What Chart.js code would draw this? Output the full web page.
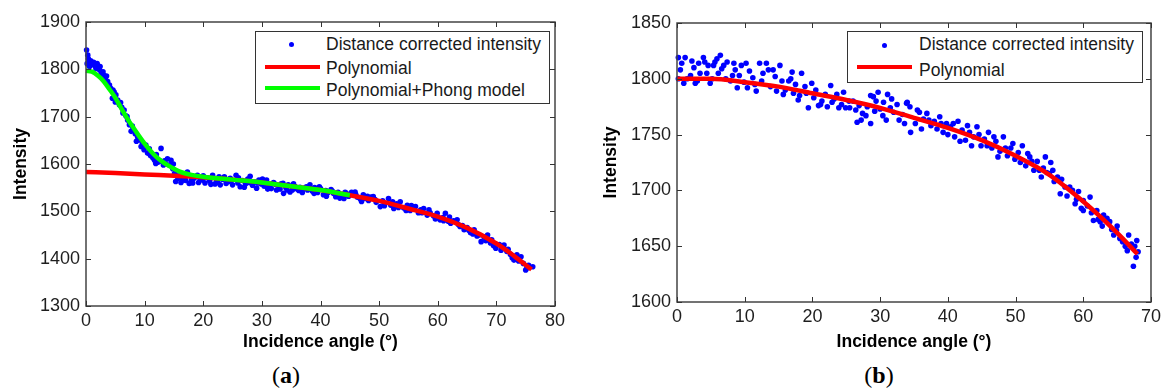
<!DOCTYPE html>
<html><head><meta charset="utf-8">
<script src="https://cdn.jsdelivr.net/npm/chart.js@4.4.1/dist/chart.umd.min.js"></script>
<style>
body{margin:0;background:#fff;width:1165px;height:390px;overflow:hidden;position:relative;font-family:"Liberation Sans",Arial,sans-serif;}
canvas{position:absolute;top:0}
.lg{position:absolute;border:1.5px solid #333;box-sizing:border-box;background:#fff}
.t{position:absolute;font-size:17.5px;line-height:20px;color:#1a1a1a;white-space:nowrap}
.dot{position:absolute;width:5px;height:5px;border-radius:50%;background:#0000ff}
.ln{position:absolute;height:4px}
.cap{position:absolute;font-family:"Liberation Serif","Times New Roman",serif;font-size:24px;line-height:26px;color:#000;transform:translateX(-50%);white-space:nowrap}
</style></head><body>
<canvas id="ca" width="580" height="360" style="left:0"></canvas>
<canvas id="cb" width="575" height="360" style="left:590px"></canvas>

<div class="lg" style="left:255px;top:31px;width:295px;height:73px"></div>
<div class="dot" style="left:289px;top:42px"></div>
<div class="t" style="left:326px;top:34px">Distance corrected intensity</div>
<div class="ln" style="left:265px;top:65px;width:55px;background:#ff0000"></div>
<div class="t" style="left:326px;top:58px">Polynomial</div>
<div class="ln" style="left:265px;top:86px;width:55px;background:#00ff00"></div>
<div class="t" style="left:326px;top:80px">Polynomial+Phong model</div>

<div class="lg" style="left:847px;top:31px;width:296px;height:52px"></div>
<div class="dot" style="left:882px;top:42.5px"></div>
<div class="t" style="left:919px;top:34px">Distance corrected intensity</div>
<div class="ln" style="left:857px;top:65px;width:55px;background:#ff0000"></div>
<div class="t" style="left:919px;top:60px">Polynomial</div>

<div class="cap" style="left:286px;top:362px">(<b>a</b>)</div>
<div class="cap" style="left:879px;top:362px">(<b>b</b>)</div>

<script>
// ---------- data: chart (a) ----------
const xTicksA = [0,10,20,30,40,50,60,70,80];
const yTicksA = [1300,1400,1500,1600,1700,1800,1900];
const measuredA = [
[0.1,1841],[0.3,1830],[0.2,1812],[0.4,1822],[0.6,1806],[0.8,1818],[1.0,1810],[1.3,1815],[1.5,1808],[1.7,1802],
[1.9,1812],[2.0,1808],[2.3,1799],[2.4,1806],[2.6,1792],[2.9,1795],[3.0,1788],[3.3,1780],[3.5,1786],[3.7,1774],
[4.0,1767],[4.2,1760],[4.5,1739],[4.6,1756],[4.8,1752],[5.0,1731],[5.1,1746],[5.4,1735],[5.7,1725],[5.9,1730],
[6.1,1720],[6.3,1708],[6.5,1714],[6.8,1702],[7.0,1700],[7.1,1693],[7.4,1683],[7.7,1669],[7.9,1680],[8.0,1672],
[8.4,1664],[8.6,1648],[8.8,1657],[9.1,1651],[9.4,1637],[9.6,1645],[9.9,1630],[10.2,1640],[10.5,1623],[10.8,1632],
[11.0,1618],[11.4,1613],[11.7,1608],[11.9,1601],[12.0,1620],[12.3,1604],[12.6,1606],[12.8,1633],[13.2,1598],[13.4,1607],
[13.6,1601],[13.9,1611],[14.2,1598],[14.5,1608],[14.8,1590],[14.9,1600],[15.1,1580],[15.3,1563],[15.5,1575],[15.7,1570],
[16.0,1575],[16.2,1561],[16.5,1566],[16.9,1572],[17.0,1565],[17.3,1583],[17.6,1559],[18.0,1566],[18.2,1560],[18.4,1570],
[18.8,1573],[19.0,1576],[19.2,1561],[19.5,1568],[19.9,1566],[20.0,1575],[20.3,1560],[20.7,1571],[21.1,1564],[21.3,1557],
[21.6,1576],[22.0,1558],[22.3,1566],[22.5,1561],[22.7,1573],[22.9,1556],[23.3,1568],[23.6,1573],[23.9,1559],[24.3,1563],
[24.6,1570],[24.8,1566],[25.0,1556],[25.6,1576],[25.9,1560],[26.0,1571],[26.3,1552],[26.7,1565],[27.0,1551],[27.2,1558],
[27.6,1568],[27.9,1561],[28.0,1574],[28.4,1555],[28.8,1562],[29.1,1549],[29.3,1560],[29.5,1566],[29.9,1558],[30.1,1568],
[30.4,1553],[30.8,1566],[31.0,1547],[31.2,1556],[31.6,1548],[32.0,1561],[32.3,1557],[32.5,1545],[32.9,1553],[33.1,1547],
[33.3,1558],[33.6,1559],[33.7,1538],[34.1,1550],[34.3,1545],[34.5,1556],[34.8,1541],[35.2,1545],[35.4,1558],[35.6,1553],
[36.0,1547],[36.3,1544],[36.5,1551],[36.9,1540],[37.3,1549],[37.6,1552],[37.8,1545],[38.2,1556],[38.6,1543],[38.9,1538],
[39.0,1550],[39.5,1540],[39.8,1552],[40.0,1548],[40.5,1535],[40.9,1544],[41.0,1532],[41.3,1540],[41.8,1546],[42.0,1543],
[42.2,1538],[42.6,1531],[43.0,1540],[43.3,1528],[43.5,1533],[44.0,1527],[44.2,1540],[44.4,1538],[44.8,1532],[45.3,1540],
[45.9,1541],[46.0,1536],[46.3,1530],[46.8,1526],[47.0,1521],[47.3,1535],[47.7,1527],[48.0,1532],[48.2,1523],[48.6,1530],
[49.0,1531],[49.3,1525],[49.5,1519],[50.2,1510],[50.6,1522],[50.9,1512],[51.0,1517],[51.6,1527],[52.0,1513],[52.3,1520],
[52.5,1506],[53.0,1516],[53.3,1508],[53.6,1520],[54.2,1507],[54.6,1502],[54.8,1513],[55.3,1502],[55.5,1512],[55.8,1508],
[56.2,1510],[56.7,1497],[57.1,1503],[57.3,1497],[57.6,1506],[58.2,1492],[58.5,1503],[58.7,1497],[59.3,1490],[59.6,1484],
[59.9,1496],[60.4,1482],[60.9,1487],[61.0,1480],[61.3,1496],[61.8,1479],[62.0,1488],[62.2,1475],[62.7,1480],[63.3,1482],
[63.5,1472],[63.8,1468],[64.2,1470],[64.5,1461],[65.0,1466],[65.3,1460],[65.6,1455],[66.0,1452],[66.2,1461],[66.7,1448],
[67.1,1450],[67.4,1436],[67.9,1446],[68.2,1438],[68.5,1450],[69.0,1433],[69.2,1440],[69.5,1428],[69.9,1422],[70.1,1430],
[70.5,1430],[70.8,1418],[71.3,1429],[71.8,1415],[72.0,1420],[72.4,1409],[72.7,1402],[73.0,1397],[73.5,1408],[73.8,1395],
[74.2,1404],[74.6,1390],[75.0,1376],[75.2,1380],[75.5,1386],[76.2,1383]
];
const polynomialA = [
[0,1583],[5,1581],[10,1578],[15,1575],[20,1572],[25,1567],[30,1561],[35,1553],[40,1545],[45,1534],
[50,1522],[55,1506],[60,1489],[65,1465],[70,1432],[73,1406],[76,1377]
];
const phongA = [
[0,1797],[1,1795],[2,1787],[3,1775],[4,1758],[5,1740],[6,1718],[7,1697],[8,1678],[9,1660],[10,1643],
[11,1628],[12,1615],[13,1605],[14,1597],[15,1590],[16,1584],[17,1580],[18,1577],[20,1573],[25,1567],
[30,1561],[35,1553],[40,1545],[45,1534]
];

// ---------- data: chart (b) ----------
const xTicksB = [0,10,20,30,40,50,60,70];
const yTicksB = [1600,1650,1700,1750,1800,1850];
const measuredB = [
[0.2,1819],[0.2,1800],[0.5,1808],[0.7,1814],[1.0,1796],[1.2,1819],[1.5,1800],[2.0,1803],[2.2,1816],[2.5,1810],
[2.7,1796],[3.0,1798],[3.2,1814],[3.4,1805],[3.9,1819],[4.1,1815],[4.4,1805],[4.6,1812],[4.9,1796],[5.2,1800],
[5.4,1812],[5.6,1815],[5.9,1818],[6.1,1805],[6.4,1821],[6.6,1809],[6.9,1812],[7.2,1800],[7.4,1815],[7.9,1798],
[8.2,1803],[8.4,1814],[8.6,1808],[8.9,1792],[9.2,1803],[9.5,1812],[9.9,1797],[10.2,1814],[10.4,1792],[10.7,1807],
[11.2,1801],[11.5,1795],[11.7,1789],[12.2,1814],[12.5,1798],[12.7,1805],[13.2,1814],[13.5,1808],[13.8,1793],[14.2,1808],
[14.5,1802],[14.7,1789],[15.2,1812],[15.5,1798],[15.7,1786],[16.0,1790],[16.5,1798],[16.8,1800],[17.0,1806],[17.2,1787],
[17.5,1795],[17.9,1781],[18.1,1785],[18.4,1805],[18.9,1793],[19.1,1787],[19.4,1774],[19.9,1796],[20.2,1783],[20.5,1790],
[20.9,1776],[21.2,1777],[21.4,1780],[21.9,1786],[22.2,1775],[22.7,1794],[22.9,1779],[23.2,1782],[23.6,1786],[23.9,1774],
[24.3,1777],[24.6,1788],[24.9,1774],[25.4,1780],[25.5,1774],[26.0,1780],[26.4,1772],[26.6,1761],[26.9,1776],[27.2,1763],
[27.4,1769],[27.9,1767],[28.1,1775],[28.6,1785],[28.6,1760],[29.0,1784],[29.2,1771],[29.4,1780],[29.7,1788],[30.0,1773],
[30.4,1767],[30.5,1779],[30.9,1763],[31.1,1786],[31.5,1774],[31.7,1782],[32.0,1770],[32.5,1777],[32.8,1763],[33.3,1768],
[33.6,1760],[33.9,1778],[34.0,1779],[34.4,1775],[34.5,1752],[35.2,1760],[35.5,1772],[35.8,1770],[36.1,1755],[36.4,1764],
[36.9,1769],[37.2,1763],[37.5,1758],[38.0,1762],[38.4,1755],[38.8,1766],[39.0,1760],[39.3,1752],[39.8,1760],[40.0,1750],
[40.4,1757],[40.8,1760],[41.0,1748],[41.5,1762],[41.8,1744],[42.1,1754],[42.6,1745],[42.9,1758],[43.2,1752],[43.5,1740],
[43.8,1748],[44.3,1757],[44.6,1750],[44.9,1740],[45.4,1746],[45.8,1740],[46.0,1752],[46.5,1738],[46.8,1748],[47.1,1744],
[47.4,1730],[47.7,1735],[48.2,1748],[48.5,1738],[48.8,1731],[49.3,1738],[49.6,1742],[49.9,1728],[50.4,1734],[50.7,1725],
[51.0,1740],[51.5,1722],[51.8,1733],[52.1,1730],[52.4,1726],[52.7,1718],[53.2,1726],[53.5,1718],[53.8,1712],[54.1,1720],
[54.4,1730],[54.6,1716],[55.0,1715],[55.2,1725],[55.5,1718],[55.7,1708],[56.2,1712],[56.6,1697],[56.8,1710],[57.3,1703],
[57.6,1695],[58.0,1703],[58.4,1700],[58.8,1688],[59.0,1692],[59.3,1699],[59.7,1684],[60.0,1691],[60.0,1682],[60.6,1686],
[61.0,1694],[61.2,1680],[61.5,1673],[62.0,1682],[62.2,1674],[62.5,1672],[62.8,1668],[63.0,1678],[63.5,1675],[63.9,1672],
[64.2,1665],[64.5,1660],[64.9,1664],[65.0,1668],[65.4,1657],[65.8,1654],[66.2,1650],[66.5,1646],[66.7,1660],[67.1,1652],
[67.4,1632],[67.6,1650],[67.8,1640],[67.9,1655],[68.1,1645]
];
const polynomialB = [
[0,1800],[5,1800],[10,1797],[15,1793],[20,1787],[25,1781],[30,1774],[35,1765],[40,1756],[45,1745],
[50,1731],[55,1714],[60,1690],[65,1662],[68,1643]
];

// ---------- rendering ----------
const FONT = '"Liberation Sans", Arial, sans-serif';
Chart.defaults.font.family = FONT;
const toXY = arr => arr.map(p => ({x:p[0], y:p[1]}));

const framePlugin = {
  id:'frame',
  afterDraw(chart){
    const {ctx, chartArea:{left,right,top,bottom}, scales:{x,y}} = chart;
    ctx.save();
    ctx.strokeStyle = '#444';
    ctx.lineWidth = 1.5;
    ctx.strokeRect(left, top, right-left, bottom-top);
    ctx.lineWidth = 1;
    ctx.strokeStyle = '#333';
    ctx.beginPath();
    const L = 5;
    x.ticks.forEach((t,i)=>{
      const px = Math.round(x.getPixelForTick(i)) + 0.5;
      ctx.moveTo(px, bottom); ctx.lineTo(px, bottom-L);
      ctx.moveTo(px, top); ctx.lineTo(px, top+L);
    });
    y.ticks.forEach((t,i)=>{
      const py = Math.round(y.getPixelForTick(i)) + 0.5;
      ctx.moveTo(left, py); ctx.lineTo(left+L, py);
      ctx.moveTo(right, py); ctx.lineTo(right-L, py);
    });
    ctx.stroke();
    ctx.restore();
  }
};

function build(id, o){
  const datasets = [];
  if (o.phong) datasets.push({type:'line', data:toXY(o.phong), borderColor:'#00ff00', borderWidth:4.5,
      pointRadius:0, cubicInterpolationMode:'monotone', order:0, clip:6});
  datasets.push({type:'line', data:toXY(o.poly), borderColor:'#ff0000', borderWidth:4.5,
      pointRadius:0, cubicInterpolationMode:'monotone', order:1, clip:6});
  datasets.push({type:'scatter', data:toXY(o.pts), backgroundColor:'#0000ff', borderWidth:0,
      pointRadius:2.8, pointHoverRadius:2.8, order:2, clip:6});
  new Chart(document.getElementById(id), {
    type:'scatter',
    data:{datasets},
    plugins:[framePlugin],
    options:{
      responsive:false, animation:false, events:[],
      layout:{padding:{top:o.padTop, right:o.padRight, left:0, bottom:0}},
      plugins:{legend:{display:false}, tooltip:{enabled:false}},
      scales:{
        x:{type:'linear', min:o.xt[0], max:o.xt[o.xt.length-1],
           afterBuildTicks(s){ s.ticks = o.xt.map(v=>({value:v})); },
           ticks:{color:'#1e1e1e', font:{size:18}, padding:4, maxRotation:0, autoSkip:false, callback:v=>String(v)},
           grid:{display:false, drawTicks:false}, border:{display:false},
           title:{display:true, text:'Incidence angle (°)', color:'#000', font:{size:17.5, weight:'bold'}, padding:{top:0,bottom:7.5}},
           afterFit(s){ s.height = o.xh; }},
        y:{type:'linear', min:o.yt[0], max:o.yt[o.yt.length-1],
           afterBuildTicks(s){ s.ticks = o.yt.map(v=>({value:v})); },
           ticks:{color:'#1e1e1e', font:{size:18}, padding:6, autoSkip:false, callback:v=>String(v)},
           grid:{display:false, drawTicks:false}, border:{display:false},
           title:{display:true, text:'Intensity', color:'#000', font:{size:17.5, weight:'bold'}, padding:{top:10.5,bottom:0}},
           afterFit(s){ s.width = o.yw; }}
      }
    }
  });
}

build('ca', {pts:measuredA, poly:polynomialA, phong:phongA, xt:xTicksA, yt:yTicksA,
             padTop:22, padRight:25, xh:54, yw:86});
build('cb', {pts:measuredB, poly:polynomialB, xt:xTicksB, yt:yTicksB,
             padTop:23, padRight:14, xh:58, yw:87});
</script>
</body></html>
